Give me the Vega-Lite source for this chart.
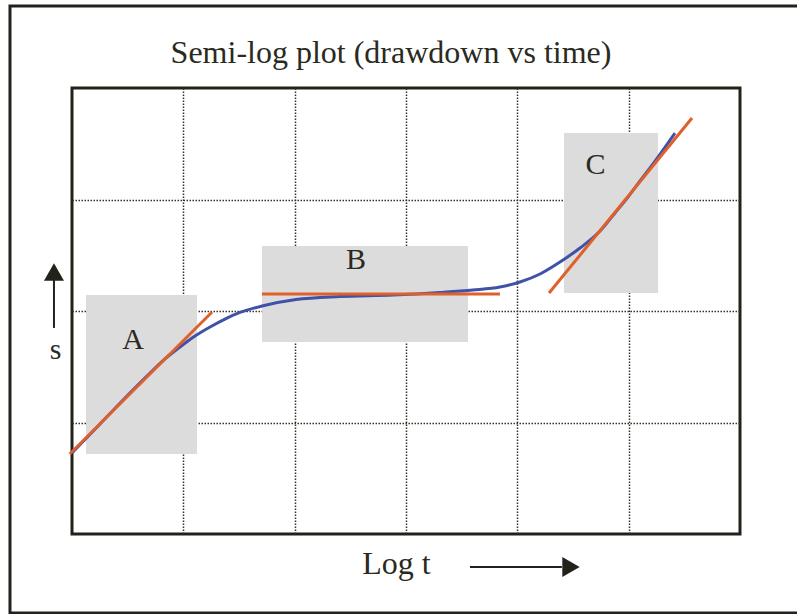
{
  "$schema": "https://vega.github.io/schema/vega-lite/v6.json",
  "width": 668,
  "height": 446,
  "autosize": {"type": "none"},
  "padding": {"left": 72, "top": 88, "right": 57, "bottom": 80},
  "background": "white",
  "title": {
    "text": "Semi-log plot (drawdown vs time)",
    "font": "Liberation Serif",
    "fontSize": 32,
    "fontWeight": "normal",
    "color": "#2a2a1e",
    "anchor": "middle",
    "dx": -15,
    "baseline": "alphabetic",
    "offset": -90
  },
  "config": {
    "view": {"stroke": "#22221a", "strokeWidth": 3},
    "axis": {
      "grid": true,
      "gridDash": [1.5, 1.5],
      "gridColor": "#333328",
      "gridWidth": 1.5,
      "labels": false,
      "ticks": false,
      "domain": false,
      "zindex": 1,
      "titleFont": "Liberation Serif",
      "titleFontWeight": "normal",
      "titleColor": "#2a2a1e",
      "titleAlign": "center",
      "titleBaseline": "alphabetic"
    }
  },
  "datasets": {
    "frame": [{"x0": -0.557, "x1": 6.56, "y0": -0.709, "y1": 4.735}],
    "regions": [
      {"region": "A", "x0": 0.126, "x1": 1.123, "y0": 0.717, "y1": 2.143, "lx": 0.548, "ly": 1.659},
      {"region": "B", "x0": 1.707, "x1": 3.557, "y0": 1.722, "y1": 2.583, "lx": 2.551, "ly": 2.377},
      {"region": "C", "x0": 4.419, "x1": 5.264, "y0": 2.161, "y1": 3.596, "lx": 4.702, "ly": 3.229}
    ],
    "fits": [
      {"segment": "A", "logt": -0.02, "s": 0.717},
      {"segment": "A", "logt": 1.258, "s": 1.991},
      {"segment": "B", "logt": 1.707, "s": 2.152},
      {"segment": "B", "logt": 3.844, "s": 2.152},
      {"segment": "C", "logt": 4.285, "s": 2.161},
      {"segment": "C", "logt": 5.569, "s": 3.731}
    ],
    "drawdown": [
      {"logt": 0.0, "s": 0.726},
      {"logt": 0.252, "s": 0.987},
      {"logt": 0.476, "s": 1.22},
      {"logt": 0.701, "s": 1.444},
      {"logt": 0.835, "s": 1.57},
      {"logt": 0.97, "s": 1.677},
      {"logt": 1.105, "s": 1.776},
      {"logt": 1.24, "s": 1.857},
      {"logt": 1.374, "s": 1.928},
      {"logt": 1.509, "s": 1.987},
      {"logt": 1.707, "s": 2.045},
      {"logt": 2.012, "s": 2.103},
      {"logt": 2.407, "s": 2.13},
      {"logt": 2.883, "s": 2.143},
      {"logt": 3.306, "s": 2.166},
      {"logt": 3.602, "s": 2.188},
      {"logt": 3.844, "s": 2.215},
      {"logt": 4.024, "s": 2.26},
      {"logt": 4.204, "s": 2.332},
      {"logt": 4.383, "s": 2.439},
      {"logt": 4.563, "s": 2.565},
      {"logt": 4.743, "s": 2.717},
      {"logt": 4.877, "s": 2.879},
      {"logt": 4.994, "s": 3.022},
      {"logt": 5.102, "s": 3.166},
      {"logt": 5.237, "s": 3.345},
      {"logt": 5.416, "s": 3.596}
    ],
    "arrows": [
      {"axis": "t", "x0": 3.575, "x1": 4.4, "y0": -0.296, "y1": -0.296, "hx": 4.482, "hy": -0.296, "head": "triangle-right"},
      {"axis": "s", "x0": -0.162, "x1": -0.162, "y0": 1.848, "y1": 2.28, "hx": -0.162, "hy": 2.35, "head": "triangle-up"}
    ]
  },
  "layer": [
    {
      "data": {"name": "frame"},
      "mark": {"type": "rect", "fill": null, "stroke": "#22221a", "strokeWidth": 3, "clip": false},
      "encoding": {
        "x": {"field": "x0", "type": "quantitative", "scale": {"domain": [0, 6], "nice": false, "zero": false},
          "axis": {"values": [1, 2, 3, 4, 5], "title": "Log t", "titleFontSize": 32, "titleX": 324, "titleY": 39}},
        "x2": {"field": "x1"},
        "y": {"field": "y0", "type": "quantitative", "scale": {"domain": [0, 4], "nice": false, "zero": false},
          "axis": {"values": [1, 2, 3], "title": "s", "titleFontSize": 30, "titleAngle": 0, "titleX": -17, "titleY": 270}},
        "y2": {"field": "y1"}
      }
    },
    {
      "data": {"name": "regions"},
      "mark": {"type": "rect", "fill": "#dcdcdc"},
      "encoding": {
        "x": {"field": "x0", "type": "quantitative"},
        "x2": {"field": "x1"},
        "y": {"field": "y0", "type": "quantitative"},
        "y2": {"field": "y1"}
      }
    },
    {
      "data": {"name": "regions"},
      "mark": {"type": "text", "font": "Liberation Serif", "fontSize": 30, "color": "#2a2a1e", "align": "center", "baseline": "alphabetic"},
      "encoding": {
        "x": {"field": "lx", "type": "quantitative"},
        "y": {"field": "ly", "type": "quantitative"},
        "text": {"field": "region"}
      }
    },
    {
      "data": {"name": "drawdown"},
      "mark": {"type": "line", "color": "#3f52a8", "strokeWidth": 3, "interpolate": "monotone"},
      "encoding": {
        "x": {"field": "logt", "type": "quantitative"},
        "y": {"field": "s", "type": "quantitative"}
      }
    },
    {
      "data": {"name": "fits"},
      "mark": {"type": "line", "color": "#e0602c", "strokeWidth": 3},
      "encoding": {
        "x": {"field": "logt", "type": "quantitative"},
        "y": {"field": "s", "type": "quantitative"},
        "detail": {"field": "segment"}
      }
    },
    {
      "data": {"name": "arrows"},
      "mark": {"type": "rule", "color": "#22221a", "strokeWidth": 2, "clip": false},
      "encoding": {
        "x": {"field": "x0", "type": "quantitative"},
        "x2": {"field": "x1"},
        "y": {"field": "y0", "type": "quantitative"},
        "y2": {"field": "y1"}
      }
    },
    {
      "data": {"name": "arrows"},
      "mark": {"type": "point", "filled": true, "color": "#22221a", "opacity": 1, "size": 400, "clip": false},
      "encoding": {
        "x": {"field": "hx", "type": "quantitative"},
        "y": {"field": "hy", "type": "quantitative"},
        "shape": {"field": "head", "type": "nominal", "scale": {"domain": ["triangle-right", "triangle-up"], "range": ["triangle-right", "triangle-up"]}, "legend": null}
      }
    }
  ]
}
